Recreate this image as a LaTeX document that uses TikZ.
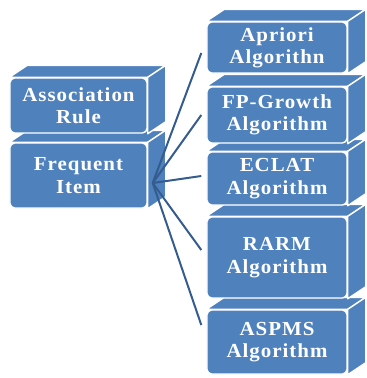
\documentclass[tikz,border=0pt]{standalone}
\usepackage{fontspec}
\newfontfamily\blockfont[FakeStretch=1.05,LetterSpace=5]{Liberation Serif}
\usetikzlibrary{calc}

\definecolor{blockblue}{RGB}{79,129,189}
\definecolor{spokeblue}{RGB}{52,92,142}

% side and top faces of a block, drawn behind the next block up
\newcommand{\blockfaces}[1]{%
  \filldraw[face] (#1.north west) -- ++(18,-12) -- ($(#1.north east)+(18,-12)$) -- (#1.north east) -- cycle;
  \filldraw[face] (#1.north east) -- ++(18,-12) -- ($(#1.south east)+(18,-12)$) -- (#1.south east) -- cycle;
}

\begin{document}
\begin{tikzpicture}[
        x=0.03cm, y=-0.03cm,
        block/.style={rectangle, rounded corners=4pt, fill=blockblue, draw=white, line width=1.2pt,
          text=white, align=center, inner sep=0pt, minimum width=4.2cm,
          font=\blockfont\bfseries\fontsize{17}{19}\selectfont},
        face/.style={fill=blockblue, draw=white, line width=1.2pt, line join=round},
        spoke/.style={draw=spokeblue, line width=1.7pt}
      ]
        \useasboundingbox (0,0) rectangle (367,378);

        % Algorithms (bottom to top)
        \node[block, minimum height=1.92cm] (aspms) at (277,342) {ASPMS\\Algorithm};
        \blockfaces{aspms}
        \node[block, minimum height=2.43cm] (rarm) at (277,257.5) {RARM\\Algorithm};
        \blockfaces{rarm}
        \node[block, minimum height=1.59cm] (eclat) at (277,178.5) {ECLAT\\Algorithm};
        \blockfaces{eclat}
        \node[block, minimum height=1.68cm] (fpgrowth) at (277,115) {FP-Growth\\Algorithm};
        \blockfaces{fpgrowth}
        \node[block, minimum height=1.53cm] (apriori) at (277,47.5) {Apriori\\Algorithn};
        \blockfaces{apriori}

        % Left stack
        \node[block, minimum width=4.11cm, minimum height=1.95cm] (freq) at (78.5,175.5) {Frequent\\Item};
        \blockfaces{freq}
        \node[block, minimum width=4.11cm, minimum height=1.65cm] (assoc) at (78.5,105.5) {Association\\Rule};
        \blockfaces{assoc}

        % Spokes
        \coordinate (hub) at ([shift={(5,7.5)}]freq.east);
        \draw[spoke] (hub) -- ([shift={(-5,5.5)}]apriori.west);
        \draw[spoke] (hub) -- ([shift={(-5,0)}]fpgrowth.west);
        \draw[spoke] (hub) -- ([shift={(-5,-2.5)}]eclat.west);
        \draw[spoke] (hub) -- ([shift={(-5,-7.5)}]rarm.west);
        \draw[spoke] (hub) -- ([shift={(-5,-17)}]aspms.west);
\end{tikzpicture}
\end{document}
